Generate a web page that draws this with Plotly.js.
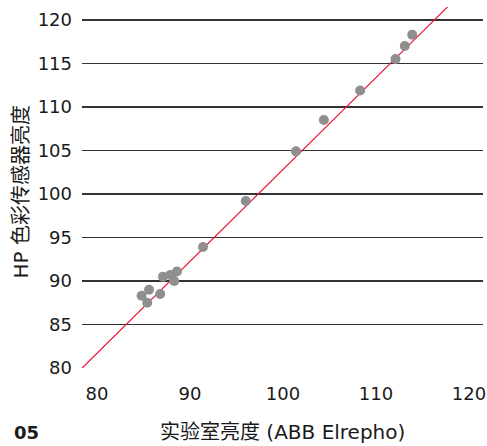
<!DOCTYPE html>
<html>
<head>
<meta charset="utf-8">
<script src="https://cdn.plot.ly/plotly-3.0.1.min.js"></script>
<style>html,body{margin:0;padding:0;background:#fff;}#chart{width:487px;height:446px;}</style>
</head>
<body>
<div id="chart"></div>
<script>
// Measured points: lab brightness (ABB Elrepho) vs HP colour sensor brightness
const labBrightness = [84.8, 85.6, 85.4, 86.8, 87.1, 87.9, 88.6, 88.3, 91.4, 96.0, 101.4, 104.4, 108.3, 112.1, 113.1, 113.9];
const hpBrightness  = [88.3, 89.0, 87.5, 88.5, 90.5, 90.7, 91.1, 90.0, 93.9, 99.2, 104.9, 108.5, 111.9, 115.5, 117.0, 118.3];
// Reference (trend) line end points
const lineX = [78.4, 117.7];
const lineY = [80.0, 121.5];
// Axis ticks
const tickVals = [80, 85, 90, 95, 100, 105, 110, 115, 120];
const xTickVals = [80, 90, 100, 110, 120];
const xTitle = "实验室亮度 (ABB Elrepho)";
const yTitle = "HP 色彩传感器亮度";
const figLabel = "05";

const font = "DejaVu Sans, Noto Sans CJK SC, sans-serif";

const traces = [
  {
    x: lineX, y: lineY, type: "scatter", mode: "lines",
    line: {color: "#e8112d", width: 1.2},
    hoverinfo: "skip", showlegend: false
  },
  {
    x: labBrightness, y: hpBrightness, type: "scatter", mode: "markers",
    marker: {color: "#8f8f8f", size: 10, line: {width: 0}},
    showlegend: false
  }
];

const layout = {
  width: 487, height: 446,
  margin: {l: 82, r: 4, t: 7, b: 78},
  paper_bgcolor: "#ffffff", plot_bgcolor: "#ffffff",
  font: {family: font, size: 18, color: "#1a1a1a"},
  showlegend: false,
  xaxis: {
    range: [78.39, 121.51], tickvals: xTickVals,
    showgrid: false, zeroline: false, showline: false,
    ticks: "", ticklen: 0, ticklabelstandoff: 13,
    tickfont: {family: font, size: 18, color: "#1a1a1a"},
    title: {text: ""}
  },
  yaxis: {
    range: [80, 121.49], tickvals: tickVals,
    showgrid: true, gridcolor: "#333333", gridwidth: 1.2,
    zeroline: false, showline: false, ticks: "", ticklabelstandoff: 9,
    tickfont: {family: font, size: 18, color: "#1a1a1a"},
    title: {text: ""}
  },
  annotations: [
    {
      text: xTitle, xref: "paper", yref: "paper", x: 0.5, y: 0,
      yshift: -64, showarrow: false, xanchor: "center", yanchor: "middle",
      font: {family: font, size: 20, color: "#1a1a1a"}
    },
    {
      text: yTitle, xref: "paper", yref: "paper", x: 0, y: 0.5,
      xshift: -62, yshift: -5, textangle: -90, showarrow: false,
      xanchor: "center", yanchor: "middle",
      font: {family: font, size: 20, color: "#1a1a1a"}
    },
    {
      text: "<b>" + figLabel + "</b>", xref: "paper", yref: "paper", x: 0, y: 0,
      xshift: -70, yshift: -64, showarrow: false, xanchor: "left", yanchor: "middle",
      font: {family: font, size: 18, color: "#1a1a1a"}
    }
  ]
};

Plotly.newPlot("chart", traces, layout, {displayModeBar: false, staticPlot: true});
</script>
</body>
</html>
